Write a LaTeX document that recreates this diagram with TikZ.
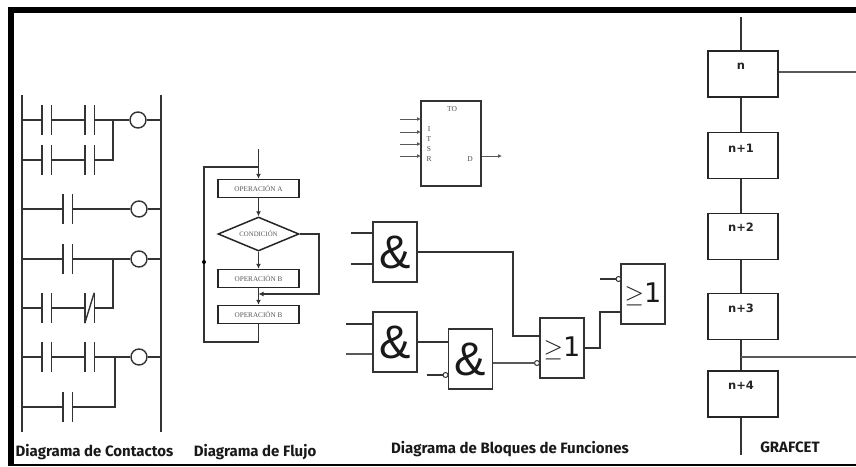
\documentclass[tikz,border=0pt]{standalone}
\usepackage{fontspec}
\usepackage{tikz}
\usetikzlibrary{arrows.meta,shapes.geometric}
\setmainfont{DejaVu Sans}
\newfontfamily\flowfont{Liberation Serif}
\newfontfamily\gatefont{Liberation Sans}
\newfontfamily\capfont{Fira Sans}
\newcommand{\andsign}{\raisebox{-4pt}{\&}}
\newcommand{\orsign}{{\fontsize{25}{25}\selectfont$\geq$}1}
\tikzset{
  wire/.style={line width=1.4pt,draw=black!80},
  heavy/.style={line width=2pt,draw=black!65},
  flowline/.style={wire,-{Latex[length=5pt,width=5pt]}},
  contact/.style={minimum width=9pt,minimum height=30pt,inner sep=0pt,
    append after command={(\tikzlastnode.north west) edge[wire] (\tikzlastnode.south west)
      (\tikzlastnode.north east) edge[wire] (\tikzlastnode.south east)}},
  nccontact/.style={contact,
    append after command={(\tikzlastnode.south west) edge[wire] (\tikzlastnode.north east)}},
  coil/.style={circle,wire,fill=white,minimum size=16pt,inner sep=0pt},
  flowbox/.style={rectangle,draw=black!85,line width=1.5pt,minimum width=81pt,minimum height=18pt,inner sep=0pt,
    font=\flowfont\fontsize{7.2}{7.2}\selectfont,text=black!65},
  gatebox/.style={rectangle,draw=black!80,line width=1.5pt,minimum width=44pt,minimum height=60pt,inner sep=0pt,fill=white},
  andtext/.style={font=\gatefont\fontsize{47}{47}\selectfont,text=black!90},
  ortext/.style={font=\fontsize{27}{27}\selectfont,text=black!90},
  bubble/.style={circle,draw=black!80,line width=1pt,fill=white,minimum size=5pt,inner sep=0pt},
  stepbox/.style={rectangle,draw=black!85,line width=1.5pt,minimum width=70pt,minimum height=46pt,inner sep=0pt},
  steptext/.style={font=\bfseries\fontsize{11.5}{11.5}\selectfont,text=black!85},
  tontext/.style={font=\flowfont\fontsize{7.5}{7.5}\selectfont,text=black!70,inner sep=0pt},
  caption/.style={font=\capfont\bfseries\fontsize{15}{15}\selectfont,inner sep=0pt,text=black!90}
}
\begin{document}
\begin{tikzpicture}[x=1pt,y=-1pt]
\useasboundingbox (0,0) rectangle (856,466);
% frame
\fill[black] (8,7) rectangle (856,13);
\fill[black] (8,7) rectangle (14,466);
\fill[black] (8,463.5) rectangle (856,466);

% contacts
\coordinate (railat) at (22,95);
\coordinate (railab) at (22,432);
\coordinate (railbt) at (161,95);
\coordinate (railbb) at (161,432);
\draw[wire] (railat) -- (railab);
\draw[wire] (railbt) -- (railbb);
\foreach \rung/\ypos in {a/120,b/160,c/209,d/259,e/308,f/357,g/407}{
  \coordinate (left\rung) at (22,\ypos);
  \coordinate (right\rung) at (161,\ypos);
}
\node[contact] (ca1) at (46.5,120) {};
\node[contact] (ca2) at (89.5,120) {};
\node[contact] (cb1) at (46.5,160) {};
\node[contact] (cb2) at (89.5,160) {};
\node[contact] (cc1) at (67.5,209) {};
\node[contact] (cd1) at (67.5,259) {};
\node[contact] (ce1) at (46.5,308) {};
\node[nccontact] (ce2) at (89.5,308) {};
\node[contact] (cf1) at (46.5,357) {};
\node[contact] (cf2) at (89.5,357) {};
\node[contact] (cg1) at (67.5,407) {};
\node[coil] (coila) at (138,120) {};
\node[coil] (coilc) at (139,209) {};
\node[coil] (coild) at (139,259) {};
\node[coil] (coilf) at (139,357) {};
\coordinate (joina) at (113,120);
\coordinate (joind) at (113,259);
\coordinate (joinf) at (115,357);
\draw[wire] (lefta) -- (ca1) (ca1) -- (ca2) (ca2) -- (coila) (coila) -- (righta);
\draw[wire] (leftb) -- (cb1) (cb1) -- (cb2) (cb2) -| (joina);
\draw[wire] (leftc) -- (cc1) (cc1) -- (coilc) (coilc) -- (rightc);
\draw[wire] (leftd) -- (cd1) (cd1) -- (coild) (coild) -- (rightd);
\draw[wire] (lefte) -- (ce1) (ce1) -- (ce2) (ce2) -| (joind);
\draw[wire] (leftf) -- (cf1) (cf1) -- (cf2) (cf2) -- (coilf) (coilf) -- (rightf);
\draw[wire] (leftg) -- (cg1) (cg1) -| (joinf);
\node[caption] (captiona) at (94.5,452) {Diagrama de Contactos};

% flow
\node[flowbox] (opa) at (258.5,188.5) {OPERACIÓN A};
\node[diamond,draw=black!85,line width=1.5pt,minimum width=81pt,minimum height=34pt,inner sep=0pt,aspect=2.4,font=\flowfont\fontsize{6.8}{6.8}\selectfont,text=black!65] (cond) at (258.5,234) {CONDICIÓN};
\node[flowbox] (opb) at (258.5,278.5) {OPERACIÓN B};
\node[flowbox] (opc) at (258.5,314.5) {OPERACIÓN B};
\coordinate (flowin) at (258.5,149);
\coordinate (loopin) at (258.5,167);
\coordinate (loopa) at (204,167);
\coordinate (loopb) at (204,342);
\coordinate (loopc) at (258.5,342);
\coordinate (backa) at (319,234);
\coordinate (backb) at (319,294);
\coordinate (backc) at (258.5,294);
\draw[flowline] (flowin) -- (opa);
\draw[flowline] (opa) -- (cond);
\draw[flowline] (cond) -- (opb);
\draw[flowline] (opb) -- (opc);
\draw[wire] (opc) -- (loopc) -- (loopb) -- (loopa) -- (loopin);
\draw[flowline] (cond.east) -- (backa) -- (backb) -- (backc);
\coordinate (looptip) at (204,262);
\fill[black] (looptip) circle (2pt);
\node[caption] (captionb) at (255,452) {Diagrama de Flujo};

% function blocks
\node[draw=black!80,line width=1.5pt,minimum width=60pt,minimum height=85pt,inner sep=0pt] (timer) at (451,143.5) {};
\node[tontext] (timerto) at (452,109) {TO};
\foreach \pin/\ypos/\ltext/\ly in {a/119/I/129,b/132/T/139,c/144/S/149,d/156/R/159}{
  \coordinate (pin\pin) at (400,\ypos);
  \coordinate (end\pin) at (421,\ypos);
  \draw[line width=.9pt,draw=black!65,-{Latex[length=4pt,width=4pt]}] (pin\pin) -- (end\pin);
  \node[tontext] (lab\pin) at (429,\ly) {\ltext};
}
\node[tontext] (timerd) at (470,159) {D};
\coordinate (timerout) at (502,156);
\draw[line width=.9pt,draw=black!65,-{Latex[length=4pt,width=4pt]}] (timer.east |- timerout) -- (timerout);

\node[gatebox,andtext] (anda) at (395,252) {\andsign};
\node[gatebox,andtext] (andb) at (395,342) {\andsign};
\node[gatebox,andtext] (andc) at (470.5,359) {\andsign};
\node[gatebox,ortext] (ora) at (562,348) {\orsign};
\node[gatebox,ortext] (orb) at (643,294) {\orsign};
\node[bubble] (bubc) at (445.5,375) {};
\node[bubble] (bubd) at (537,363) {};
\node[bubble] (bube) at (618.5,279) {};
\coordinate (ina) at (351,233);
\coordinate (inb) at (351,264);
\coordinate (inc) at (346,324);
\coordinate (ind) at (346,354);
\coordinate (ine) at (427,375);
\coordinate (inf) at (600,279);
\coordinate (bendv) at (513,252);
\coordinate (bendw) at (513,336);
\coordinate (bendx) at (600,348);
\coordinate (bendy) at (600,312);
\draw[wire] (ina) -- (anda.west |- ina);
\draw[wire] (inb) -- (anda.west |- inb);
\draw[wire] (inc) -- (andb.west |- inc);
\draw[heavy] (ind) -- (andb.west |- ind);
\draw[wire] (ine) -- (bubc);
\draw[wire] (inf) -- (bube);
\draw[wire] (anda) -- (bendv) -- (bendw) -- (ora.west |- bendw);
\draw[wire] (andb) -- (andc.west |- andb);
\draw[heavy] (andc.east |- bubd) -- (bubd);
\draw[wire] (ora.east) -- (bendx) -- (bendy) -- (orb.west |- bendy);
\node[caption] (captionc) at (510,449) {Diagrama de Bloques de Funciones};

% grafcet
\node[stepbox] (stepa) at (743,74) {};
\node[stepbox] (stepb) at (743,155.5) {};
\node[stepbox] (stepc) at (743,236.5) {};
\node[stepbox] (stepd) at (743,316.5) {};
\node[stepbox] (stepe) at (743,394) {};
\node[steptext] (texta) at (741,66) {n};
\node[steptext] (textb) at (741,148) {n+1};
\node[steptext] (textc) at (741,227) {n+2};
\node[steptext] (textd) at (741,308) {n+3};
\node[steptext] (texte) at (741,385) {n+4};
\coordinate (grafin) at (741,17);
\coordinate (grafout) at (741,455);
\coordinate (branchl) at (741,357);
\coordinate (branchr) at (856,357);
\coordinate (exitr) at (856,72);
\draw[wire] (grafin) -- (stepa.north -| grafin);
\draw[wire] (stepa.south -| grafin) -- (stepb.north -| grafin);
\draw[wire] (stepb.south -| grafin) -- (stepc.north -| grafin);
\draw[wire] (stepc.south -| grafin) -- (stepd.north -| grafin);
\draw[wire] (stepd.south -| grafin) -- (stepe.north -| grafin);
\draw[wire] (stepe.south -| grafin) -- (grafout);
\draw[heavy] (stepa.east |- exitr) -- (exitr);
\draw[heavy] (branchl) -- (branchr);
\node[caption] (captiond) at (790,447) {GRAFCET};
\end{tikzpicture}
\end{document}
